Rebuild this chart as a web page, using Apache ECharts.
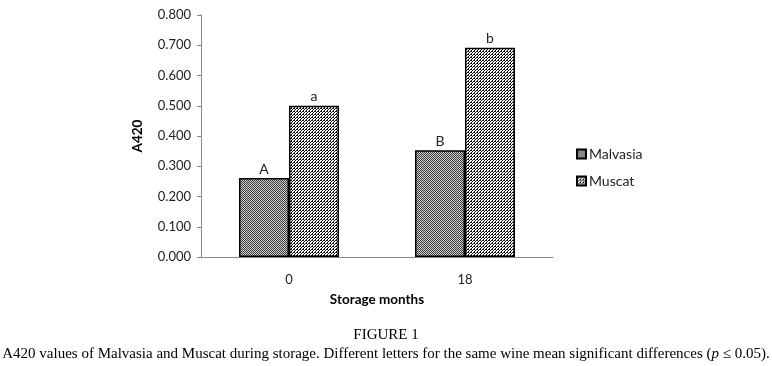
<!DOCTYPE html>
<html>
<head>
<meta charset="utf-8">
<script src="https://cdn.jsdelivr.net/npm/echarts@6/dist/echarts.min.js"></script>
<style>
  html, body { margin: 0; padding: 0; background: #fff; }
  #main { width: 772px; height: 366px; }
</style>
</head>
<body>
<div id="main"></div>
<script>
// data
var months = ['0', '18'];
var malvasia = [0.261, 0.353];
var muscat = [0.500, 0.692];
var malvasiaLetters = ['A', 'B'];
var muscatLetters = ['a', 'b'];

// small hatch tiles like the original fill patterns
function makeTile(size, cells) {
    var c = document.createElement('canvas');
    c.width = size;
    c.height = size;
    var ctx = c.getContext('2d');
    for (var y = 0; y < size; y++) {
        for (var x = 0; x < size; x++) {
            ctx.fillStyle = cells[y][x];
            ctx.fillRect(x, y, 1, 1);
        }
    }
    return c;
}
var D = '#3a3a3a', L = '#d0d0d0', K = '#111', W = '#fff';
var malvasiaTile = makeTile(2, [[D, L], [L, D]]);
var muscatTile = makeTile(3, [[K, W, K], [W, K, W], [K, W, W]]);

var myChart = echarts.init(document.getElementById('main'));
myChart.setOption({
    animation: false,
    graphic: [
        {
            type: 'text',
            left: 'center',
            top: 328,
            style: {
                text: 'FIGURE 1',
                font: '15px "Liberation Serif"',
                fill: '#000'
            }
        },
        {
            type: 'text',
            left: 'center',
            top: 347,
            style: {
                text: 'A420 values of Malvasia and Muscat during storage. Different letters for the same wine mean significant differences ({i|p} \u2264 0.05).',
                font: '15px "Liberation Serif"',
                fill: '#000',
                rich: {
                    i: { fontStyle: 'italic', fontFamily: 'Liberation Serif', fontSize: 15, fill: '#000' }
                }
            }
        }
    ],
    legend: {
        orient: 'vertical',
        left: 571,
        top: 142,
        itemWidth: 9,
        itemHeight: 9,
        itemGap: 13,
        icon: 'rect',
        textStyle: { fontFamily: 'Lato', fontSize: 14, color: '#222', padding: [0, 0, 0, -2] },
        data: ['Malvasia', 'Muscat']
    },
    grid: {
        left: 201,
        right: 219,
        top: 15,
        bottom: 109,
        containLabel: false
    },
    xAxis: {
        type: 'category',
        data: months,
        name: 'Storage months',
        nameLocation: 'middle',
        nameGap: 36,
        nameTextStyle: { fontFamily: 'Lato', fontSize: 13.5, fontWeight: 'bold', color: '#000' },
        axisLine: { lineStyle: { color: '#888', width: 1 } },
        axisTick: { show: false },
        axisLabel: { fontFamily: 'Lato', fontSize: 13, color: '#222', margin: 16 }
    },
    yAxis: {
        type: 'value',
        min: 0,
        max: 0.8,
        interval: 0.1,
        name: 'A420',
        nameLocation: 'middle',
        nameGap: 56,
        nameTextStyle: { fontFamily: 'Lato', fontSize: 13.5, fontWeight: 'bold', color: '#000' },
        axisLine: { show: true, lineStyle: { color: '#888', width: 1 } },
        axisTick: { show: true, length: 4, lineStyle: { color: '#888' } },
        splitLine: { show: false },
        axisLabel: {
            fontFamily: 'Lato',
            fontSize: 13,
            color: '#222',
            margin: 10,
            formatter: function (v) { return v.toFixed(3); }
        }
    },
    series: [
        {
            name: 'Malvasia',
            type: 'bar',
            data: malvasia,
            barWidth: 50,
            barGap: '0%',
            itemStyle: {
                color: { image: malvasiaTile, repeat: 'repeat' },
                borderColor: '#000',
                borderWidth: 1.5
            },
            label: {
                show: true,
                position: 'top',
                distance: 2,
                fontFamily: 'Lato',
                fontSize: 14,
                color: '#222',
                formatter: function (p) { return malvasiaLetters[p.dataIndex]; }
            }
        },
        {
            name: 'Muscat',
            type: 'bar',
            data: muscat,
            barWidth: 50,
            barGap: '0%',
            itemStyle: {
                color: { image: muscatTile, repeat: 'repeat' },
                borderColor: '#000',
                borderWidth: 1.5
            },
            label: {
                show: true,
                position: 'top',
                distance: 2,
                fontFamily: 'Lato',
                fontSize: 14,
                color: '#222',
                formatter: function (p) { return muscatLetters[p.dataIndex]; }
            }
        }
    ]
});
</script>
</body>
</html>
